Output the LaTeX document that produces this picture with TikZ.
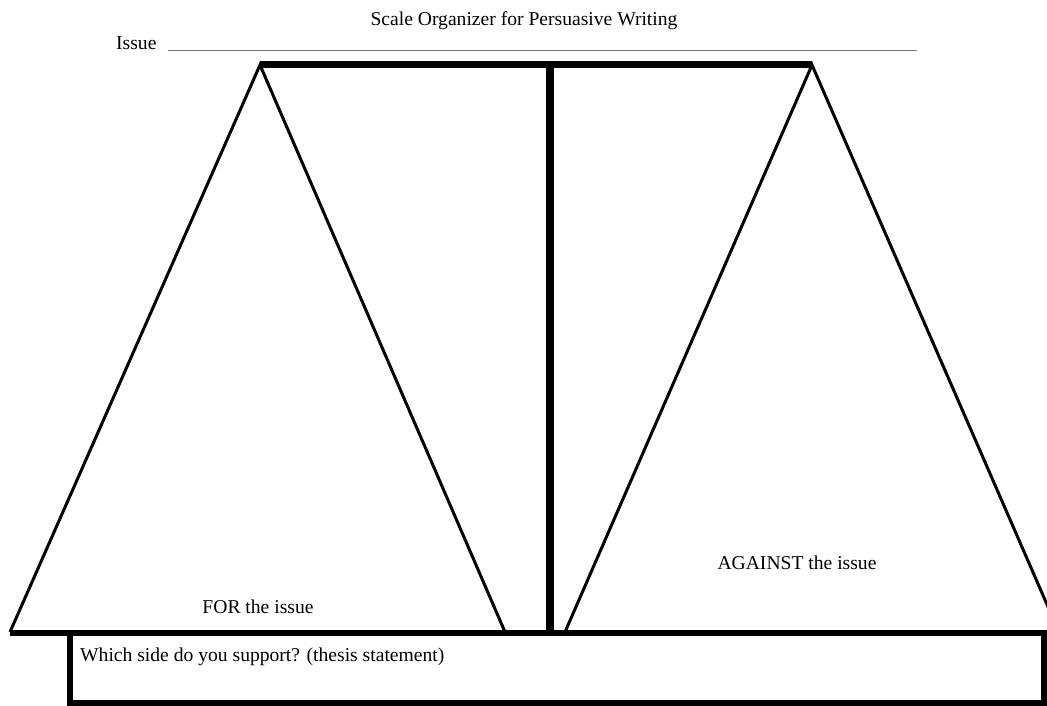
\documentclass[tikz,border=0pt]{standalone}
\usepackage{fontspec}
\setmainfont{Liberation Serif}
\usetikzlibrary{positioning}

\begin{document}
\begin{tikzpicture}[x=1pt, y=-1pt,
  pan/.style={line width=3pt},
  beam/.style={line width=7pt},
  base/.style={line width=6pt},
  lbl/.style={font=\fontsize{19.6}{22}\selectfont, inner sep=0pt}]
\useasboundingbox (0,0) rectangle (1047,706);
\clip (0,0) rectangle (1047,706);
% title and issue line
\node[lbl, anchor=base] (title) at (524,26) {Scale Organizer for Persuasive Writing};
\node[lbl, anchor=base west] (issue) at (116,50) {Issue};
\coordinate (issueend) at (917,51);
\draw[line width=1pt, black!55] (168,51) -- (issueend);
% the scale
\coordinate (lapex) at (260,65);
\coordinate (rapex) at (812,65);
\draw[pan] (10,632) -- (lapex) -- (505,632);
\draw[pan] (565,632) -- (rapex) -- (1059,632);
\draw[beam] (lapex) -- (rapex);
\draw[line width=8pt] (550,62) -- (550,632);
\draw[base] (10,633) -- (1050,633);
\draw[base] (70,633) rectangle (1044,703);
% labels
\node[lbl, anchor=base] (for) at (258,613) {FOR the issue};
\node[lbl, anchor=base] (against) at (797,569) {AGAINST the issue};
\node[lbl, anchor=base west] (thesis) at (80,661) {Which side do you support? (thesis statement)};
\end{tikzpicture}
\end{document}
